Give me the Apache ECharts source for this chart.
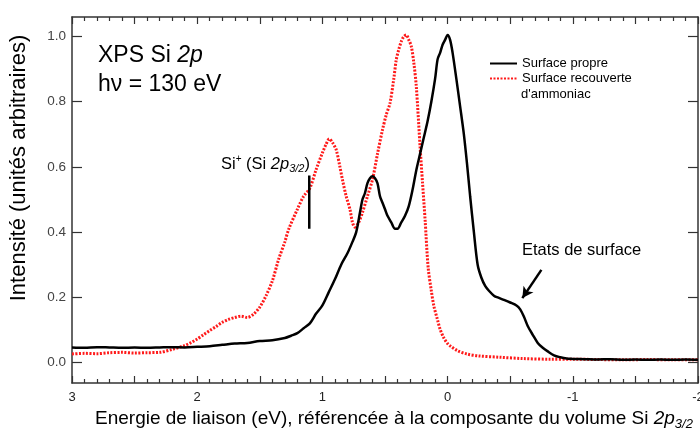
<!DOCTYPE html>
<html>
<head>
<meta charset="utf-8">
<script src="https://cdn.jsdelivr.net/npm/echarts@6/dist/echarts.min.js"></script>
<style>
html,body{margin:0;padding:0;background:#fff;}
#chart{width:700px;height:430px;}
</style>
</head>
<body>
<div id="chart"></div>
<script>
// ---- data ----
var energyClean = [3.0,2.9,2.8,2.7,2.6,2.5,2.4,2.3,2.2,2.1,2.0,1.9,1.8,1.7,1.6,1.5,1.4,1.3,1.25,1.2,1.15,1.1,1.05,1.0,0.95,0.9,0.85,0.8,0.76,0.73,0.70,0.68,0.66,0.64,0.62,0.60,0.58,0.56,0.54,0.52,0.50,0.48,0.45,0.42,0.40,0.37,0.34,0.31,0.28,0.25,0.22,0.19,0.16,0.13,0.10,0.08,0.06,0.04,0.02,0.0,-0.02,-0.04,-0.07,-0.10,-0.13,-0.155,-0.18,-0.21,-0.24,-0.27,-0.30,-0.33,-0.37,-0.41,-0.45,-0.50,-0.55,-0.58,-0.61,-0.64,-0.68,-0.72,-0.76,-0.80,-0.85,-0.90,-0.95,-1.0,-1.1,-1.2,-1.3,-1.4,-1.5,-1.6,-1.7,-1.8,-1.9,-2.0];
var intensityClean = [0.046,0.045,0.047,0.046,0.045,0.046,0.045,0.046,0.047,0.046,0.048,0.050,0.054,0.058,0.060,0.066,0.068,0.075,0.082,0.090,0.105,0.120,0.150,0.175,0.215,0.255,0.300,0.335,0.370,0.400,0.460,0.500,0.520,0.550,0.565,0.571,0.565,0.550,0.510,0.490,0.470,0.450,0.430,0.410,0.410,0.430,0.450,0.480,0.530,0.590,0.640,0.690,0.740,0.800,0.870,0.930,0.950,0.975,0.990,1.005,0.990,0.950,0.870,0.786,0.700,0.610,0.510,0.400,0.300,0.260,0.235,0.220,0.205,0.198,0.192,0.184,0.175,0.163,0.140,0.112,0.085,0.060,0.045,0.034,0.022,0.016,0.012,0.011,0.010,0.009,0.010,0.008,0.009,0.008,0.009,0.008,0.009,0.008];
var energyNH3 = [3.0,2.9,2.8,2.7,2.6,2.5,2.4,2.3,2.2,2.1,2.05,2.0,1.95,1.9,1.85,1.8,1.75,1.7,1.65,1.6,1.55,1.5,1.45,1.4,1.35,1.3,1.27,1.2,1.15,1.1,1.05,1.0,0.97,0.945,0.92,0.89,0.86,0.84,0.81,0.78,0.76,0.74,0.71,0.68,0.64,0.60,0.56,0.52,0.49,0.46,0.43,0.41,0.39,0.37,0.35,0.33,0.31,0.29,0.27,0.25,0.22,0.20,0.18,0.155,0.13,0.11,0.08,0.06,0.03,0.0,-0.02,-0.08,-0.155,-0.25,-0.42,-0.6,-0.82,-1.0,-1.2,-1.4,-1.6,-1.8,-2.0];
var intensityNH3 = [0.026,0.028,0.027,0.030,0.031,0.029,0.030,0.031,0.040,0.052,0.061,0.072,0.085,0.098,0.110,0.123,0.132,0.138,0.142,0.138,0.148,0.170,0.205,0.250,0.316,0.370,0.408,0.470,0.510,0.535,0.592,0.643,0.670,0.686,0.675,0.653,0.600,0.561,0.510,0.470,0.430,0.415,0.430,0.460,0.510,0.561,0.640,0.714,0.760,0.796,0.870,0.929,0.960,0.985,1.000,1.005,0.990,0.970,0.920,0.847,0.663,0.550,0.439,0.290,0.220,0.174,0.130,0.102,0.075,0.058,0.051,0.036,0.026,0.020,0.016,0.012,0.010,0.010,0.009,0.008,0.009,0.008,0.008];
var markerEnergy = [1.105, 1.105];
var markerIntensity = [0.41, 0.574];
var arrowEnergy = [-0.749, -0.597];
var arrowIntensity = [0.284, 0.1975];
var yTicks = [0.0, 0.2, 0.4, 0.6, 0.8, 1.0];
var seriesNames = ['Surface propre', "Surface recouverte d'ammoniac"];

function zip(a, b) { return a.map(function (v, i) { return [v, b[i]]; }); }

var chart = echarts.init(document.getElementById('chart'));
var axisColor = '#333';
var Y_MIN = -0.063, Y_MAX = 1.06;

var xCommon = {
  type: 'value', min: -2, max: 3, interval: 0.5, inverse: true,
  axisLine: { show: true, onZero: false, lineStyle: { color: axisColor, width: 1.5 } },
  axisTick: { show: true, inside: true, length: 7, lineStyle: { color: axisColor, width: 1.2 } },
  minorTick: { show: true, splitNumber: 5, length: 4, lineStyle: { color: axisColor, width: 1.2 } },
  splitLine: { show: false }
};
var yCommon = {
  type: 'value', min: Y_MIN, max: Y_MAX,
  axisLine: { show: true, onZero: false, lineStyle: { color: axisColor, width: 1.5 } },
  axisTick: { show: true, inside: true, length: 10, customValues: yTicks, lineStyle: { color: axisColor, width: 1.2 } },
  splitLine: { show: false }
};

var option = {
  animation: false,
  backgroundColor: '#fff',
  grid: { left: 72, right: 2, top: 17, bottom: 47, outerBoundsMode: 'none', containLabel: false },
  xAxis: [
    Object.assign({}, xCommon, {
      position: 'bottom',
      axisLabel: {
        show: true, margin: 8, color: '#222', fontSize: 13, fontFamily: 'Liberation Sans',
        formatter: function (v) { return Math.abs(v - Math.round(v)) < 1e-6 ? String(Math.round(v)) : ''; }
      }
    }),
    Object.assign({}, xCommon, { position: 'top', axisLabel: { show: false } })
  ],
  yAxis: [
    Object.assign({}, yCommon, {
      position: 'left',
      axisLabel: {
        show: true, margin: 6, color: '#444', fontSize: 13.5, fontFamily: 'Liberation Sans',
        customValues: yTicks,
        formatter: function (v) { return Number(v).toFixed(1); }
      }
    }),
    Object.assign({}, yCommon, { position: 'right', axisLabel: { show: false } })
  ],
  legend: {
    data: seriesNames,
    orient: 'vertical',
    left: 489, top: 57,
    padding: 0, itemGap: 2,
    itemWidth: 27, itemHeight: 10,
    itemStyle: { opacity: 0 },
    textStyle: { fontSize: 13, color: '#000', fontFamily: 'Liberation Sans', lineHeight: 11 },
    formatter: function (name) { return name === seriesNames[1] ? 'Surface recouverte' : name; }
  },
  series: [
    {
      name: seriesNames[1], type: 'line', data: zip(energyNH3, intensityNH3),
      symbol: 'none', smooth: 0.3, z: 2,
      lineStyle: { color: '#ff1a1a', width: 3, type: [2, 1.5] },
      itemStyle: { color: '#ff1a1a' }
    },
    {
      name: seriesNames[0], type: 'line', data: zip(energyClean, intensityClean),
      symbol: 'none', smooth: 0.3, z: 3,
      lineStyle: { color: '#000', width: 2.5 },
      itemStyle: { color: '#000' }
    },
    {
      name: 'marker', type: 'line', data: zip(markerEnergy, markerIntensity),
      symbol: 'none', silent: true, z: 4,
      lineStyle: { color: '#000', width: 2.5 },
      markLine: {
        silent: true, symbol: ['none', 'arrow'], symbolSize: [9, 11],
        label: { show: false },
        lineStyle: { color: '#000', width: 2.5, type: 'solid' },
        data: [[{ coord: [arrowEnergy[0], arrowIntensity[0]] }, { coord: [arrowEnergy[1], arrowIntensity[1]] }]]
      }
    }
  ],
  graphic: [
    {
      type: 'text', left: 98, top: 44,
      style: {
        text: 'XPS Si {i|2p}', font: '23px "Liberation Sans"', fill: '#000',
        rich: { i: { fontStyle: 'italic', fontSize: 23, fontFamily: 'Liberation Sans' } }
      }
    },
    {
      type: 'text', left: 98, top: 73,
      style: { text: 'h\u03bd = 130 eV', font: '23px "Liberation Sans"', fill: '#000' }
    },
    {
      type: 'text', left: 221, top: 154,
      style: {
        text: 'Si{sup|+} (Si {i|2p}{sub|3/2})', fill: '#000',
        fontSize: 16.5, fontFamily: 'Liberation Sans', lineHeight: 20,
        rich: {
          sup: { fontSize: 10, lineHeight: 10, verticalAlign: 'top', fontFamily: 'Liberation Sans' },
          i: { fontStyle: 'italic', fontSize: 16.5, lineHeight: 20, fontFamily: 'Liberation Sans' },
          sub: { fontStyle: 'italic', fontSize: 11, lineHeight: 11, verticalAlign: 'bottom', fontFamily: 'Liberation Sans' }
        }
      }
    },
    {
      type: 'text', left: 522, top: 242,
      style: { text: 'Etats de surface', font: '16.5px "Liberation Sans"', fill: '#000' }
    },
    {
      type: 'text', left: 521, top: 87.5,
      style: { text: "d'ammoniac", font: '13px "Liberation Sans"', fill: '#000' }
    },
    {
      type: 'text', left: 95, top: 407,
      style: {
        text: 'Energie de liaison (eV), r\u00e9f\u00e9renc\u00e9e \u00e0 la composante du volume Si {i|2p}{sub|3/2}',
        fill: '#000', fontSize: 19, fontFamily: 'Liberation Sans', lineHeight: 24,
        rich: {
          i: { fontStyle: 'italic', fontSize: 19, lineHeight: 24, fontFamily: 'Liberation Sans' },
          sub: { fontStyle: 'italic', fontSize: 13, lineHeight: 13, verticalAlign: 'bottom', fontFamily: 'Liberation Sans' }
        }
      }
    },
    {
      type: 'text', x: 19, y: 168, rotation: Math.PI / 2,
      style: {
        text: 'Intensit\u00e9 (unit\u00e9s arbitraires)', font: '22px "Liberation Sans"', fill: '#000',
        align: 'center', verticalAlign: 'middle'
      }
    }
  ]
};
chart.setOption(option);
</script>
</body>
</html>
